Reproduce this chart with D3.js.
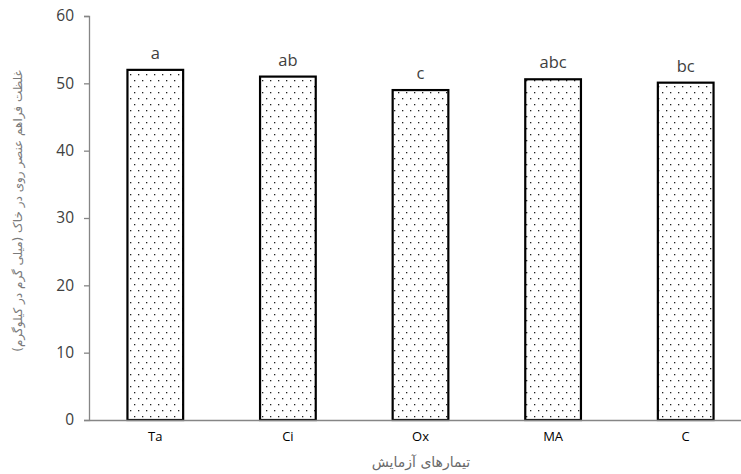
<!DOCTYPE html>
<html><head><meta charset="utf-8">
<script src="https://cdn.jsdelivr.net/npm/d3@7"></script>
<style>body{margin:0;background:#fff}svg{display:block}</style>
</head><body>
<svg id="c" width="741" height="474"></svg>
<script>
const categories = ["Ta", "Ci", "Ox", "MA", "C"];
const values = [52.0, 51.0, 49.0, 50.6, 50.1];
const letters = ["a", "ab", "c", "abc", "bc"];
const yTicks = [0, 10, 20, 30, 40, 50, 60];
const yTitle = "غلظت فراهم عنصر روی در خاک (میلی گرم در کیلوگرم)";
const xTitle = "تیمارهای آزمایش";

(function(){
const svg = d3.select("#c");
const font = "'Open Sans', 'DejaVu Sans', sans-serif";
const mLeft = 89, mTop = 16, mBottom = 420, mRightEnd = 752;

const defs = svg.append("defs");
const pat = defs.append("pattern").attr("id","dots").attr("patternUnits","userSpaceOnUse")
  .attr("width",8).attr("height",12);
pat.append("rect").attr("width",8).attr("height",12).attr("fill","#fff");
pat.append("rect").attr("x",2).attr("y",2).attr("width",1.3).attr("height",1.3).attr("fill","#222");
pat.append("rect").attr("x",6).attr("y",8).attr("width",1.3).attr("height",1.3).attr("fill","#222");

const x = d3.scaleBand().domain(categories).range([mLeft, mRightEnd]).paddingInner(0.58).paddingOuter(0.29);
const y = d3.scaleLinear().domain([0, 60]).range([mBottom, mTop]);

svg.append("g").selectAll("rect").data(categories).join("rect")
  .attr("x", d => x(d)).attr("width", x.bandwidth())
  .attr("y", (d,i) => y(values[i])).attr("height", (d,i) => y(0) - y(values[i]))
  .attr("fill", "url(#dots)").attr("stroke", "#000").attr("stroke-width", 2.2);

svg.append("g").selectAll("text").data(categories).join("text")
  .attr("x", d => x(d) + x.bandwidth()/2).attr("y", (d,i) => y(values[i]) - 11)
  .attr("text-anchor","middle").attr("font-family", font).attr("font-size", 16.5)
  .attr("fill","#404040").text((d,i) => letters[i]);

const ya = svg.append("g").attr("transform", `translate(${mLeft},0)`)
  .call(d3.axisLeft(y).tickValues(yTicks).tickSize(5).tickPadding(10));
ya.select(".domain").attr("stroke","#868686").attr("stroke-width",1.3);
ya.selectAll(".tick line").attr("stroke","#868686").attr("stroke-width",1.3);
ya.selectAll(".tick text").attr("font-family", font).attr("font-size", 15.5).attr("fill","#404040");

const xa = svg.append("g").attr("transform", `translate(0,${mBottom})`)
  .call(d3.axisBottom(x).tickSize(0).tickPadding(12));
xa.select(".domain").attr("stroke","#868686").attr("stroke-width",1.3);
xa.selectAll(".tick text").attr("font-family", font).attr("font-size", 13).attr("fill","#000");

svg.append("text").attr("transform", "translate(22,211) rotate(-90)")
  .attr("text-anchor","middle").attr("font-family", "'DejaVu Sans', sans-serif").attr("font-size", 12)
  .attr("fill","#7a7a7a").attr("direction","rtl").text(yTitle);
svg.append("text").attr("x", 421).attr("y", 467)
  .attr("text-anchor","middle").attr("font-family", "'DejaVu Sans', sans-serif").attr("font-size", 14)
  .attr("fill","#6a6a6a").attr("direction","rtl").text(xTitle);
})();
</script>
</body></html>
